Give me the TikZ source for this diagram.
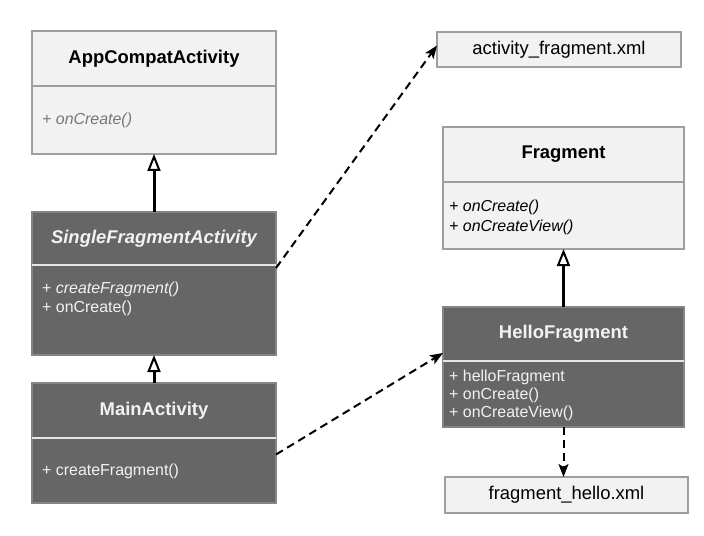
\documentclass[tikz,border=0pt]{standalone}
\usepackage{fontspec}
\setmainfont{Liberation Sans}
\usetikzlibrary{arrows.meta}
\definecolor{lfill}{HTML}{F2F2F2}
\definecolor{lborder}{HTML}{9E9E9E}
\definecolor{dfill}{HTML}{666666}
\definecolor{dborder}{HTML}{858585}
\definecolor{dtext}{HTML}{F2F2F2}
\definecolor{mgray}{HTML}{777777}
\definecolor{ddiv}{HTML}{E6E6E6}
\tikzset{
  lightbox/.style={draw=lborder, fill=lfill, line width=1.5bp, inner sep=0pt, outer sep=0pt},
  darkbox/.style={draw=dborder, fill=dfill, line width=1.2bp, inner sep=0pt, outer sep=0pt},
  darkdiv/.style={draw=ddiv, line width=2bp},
  titlefont/.style={font=\fontsize{18.5}{22}\selectfont\bfseries},
  filefont/.style={font=\fontsize{18.5}{22}\selectfont},
  memberfont/.style={font=\fontsize{16}{19}\selectfont, align=left, anchor=west, inner sep=0pt},
  inherit/.style={line width=3bp, -{Triangle[open, fill=white, length=17bp, width=13bp, line width=2bp]}},
  depend/.style={line width=2bp, dash pattern=on 8bp off 5bp, -{Stealth[length=13bp, width=10bp, inset=3bp]}},
}
\begin{document}
\begin{tikzpicture}[x=1bp, y=-1bp]
\useasboundingbox (0,0) rectangle (704,536);
% AppCompatActivity
\node[lightbox, titlefont, minimum width=244bp, minimum height=55bp] (app-h) at (154,58.5) {AppCompatActivity};
\node[lightbox, minimum width=244bp, minimum height=68bp] (app-b) at (154,120) {};
\node[memberfont, text=mgray] (app-m) at (42,120) {\itshape + onCreate()};
% SingleFragmentActivity
\node[darkbox, titlefont, text=dtext, minimum width=244bp, minimum height=53bp] (sfa-h) at (154,238.5) {\itshape SingleFragmentActivity};
\node[darkbox, minimum width=244bp, minimum height=90bp] (sfa-b) at (154,310) {};
\draw[darkdiv] (sfa-b.north west) -- (sfa-b.north east);
\node[memberfont, text=dtext] (sfa-m) at (42,298.5) {+ \textit{createFragment()}\\+ onCreate()};
% MainActivity
\node[darkbox, titlefont, text=dtext, minimum width=244bp, minimum height=55bp] (main-h) at (154,410.5) {MainActivity};
\node[darkbox, minimum width=244bp, minimum height=65bp] (main-b) at (154,470.5) {};
\draw[darkdiv] (main-b.north west) -- (main-b.north east);
\node[memberfont, text=dtext] (main-m) at (42,471) {+ createFragment()};
% activity_fragment.xml
\node[lightbox, filefont, minimum width=244bp, minimum height=35bp] (afx) at (559,49.5) {activity\_fragment.xml};
% Fragment
\node[lightbox, titlefont, minimum width=241bp, minimum height=55bp] (frag-h) at (563.5,154.5) {Fragment};
\node[lightbox, minimum width=241bp, minimum height=67bp] (frag-b) at (563.5,215.5) {};
\node[memberfont, font=\fontsize{16}{20}\selectfont\itshape] (frag-m) at (449,217) {+ onCreate()\\+ onCreateView()};
% HelloFragment
\node[darkbox, titlefont, text=dtext, minimum width=241bp, minimum height=54bp] (hello-h) at (563.5,334) {HelloFragment};
\node[darkbox, minimum width=241bp, minimum height=66bp] (hello-b) at (563.5,394) {};
\draw[darkdiv] (hello-b.north west) -- (hello-b.north east);
\node[memberfont, font=\fontsize{16}{18}\selectfont, text=dtext] (hello-m) at (449,395) {+ helloFragment\\+ onCreate()\\+ onCreateView()};
% fragment_hello.xml
\node[lightbox, filefont, minimum width=243bp, minimum height=36bp] (fhx) at (566.5,495) {fragment\_hello.xml};
% connectors
\draw[inherit] (sfa-h.north) -- (app-b.south);
\draw[inherit] (main-h.north) -- (sfa-b.south);
\draw[inherit] (hello-h.north) -- (frag-b.south);
\draw[depend] ([yshift=-3bp]sfa-b.north east) -- ([yshift=4bp]afx.west);
\draw[depend] ([yshift=16bp]main-b.east) -- ([yshift=8bp]hello-h.south west);
\draw[depend] (hello-b.south) -- (hello-b.south |- fhx.north);
\end{tikzpicture}
\end{document}
